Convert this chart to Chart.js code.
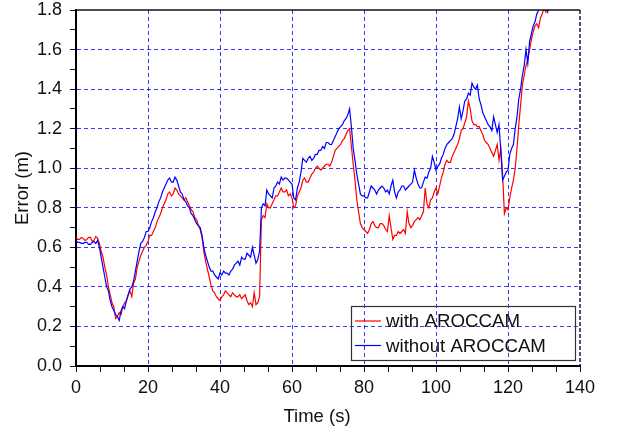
<!DOCTYPE html>
<html>
<head>
<meta charset="utf-8">
<script src="https://cdn.jsdelivr.net/npm/chart.js@4/dist/chart.umd.min.js"></script>
<style>
  html, body { margin: 0; padding: 0; background: #fff; }
  #wrap { width: 618px; height: 433px; }
</style>
</head>
<body>
<div id="wrap"><canvas id="c" width="618" height="433"></canvas></div>
<script>
// ---- Data (0.5 s sampling) ----
const timeS = [
  0,0.5,1,1.5,2,2.5,3,3.5,4,4.5, 5,5.5,6,6.5,7,7.5,8,8.5,9,9.5,
  10,10.5,11,11.5,12,12.5,13,13.5,14,14.5, 15,15.5,16,16.5,17,17.5,18,18.5,19,19.5,
  20,20.5,21,21.5,22,22.5,23,23.5,24,24.5, 25,25.5,26,26.5,27,27.5,28,28.5,29,29.5,
  30,30.5,31,31.5,32,32.5,33,33.5,34,34.5, 35,35.5,36,36.5,37,37.5,38,38.5,39,39.5,
  40,40.5,41,41.5,42,42.5,43,43.5,44,44.5, 45,45.5,46,46.5,47,47.5,48,48.5,49,49.5,
  50,50.5,51,51.5,52,52.5,53,53.5,54,54.5, 55,55.5,56,56.5,57,57.5,58,58.5,59,59.5,
  60,60.5,61,61.5,62,62.5,63,63.5,64,64.5, 65,65.5,66,66.5,67,67.5,68,68.5,69,69.5,
  70,70.5,71,71.5,72,72.5,73,73.5,74,74.5, 75,75.5,76,76.5,77,77.5,78,78.5,79,79.5,
  80,80.5,81,81.5,82,82.5,83,83.5,84,84.5, 85,85.5,86,86.5,87,87.5,88,88.5,89,89.5,
  90,90.5,91,91.5,92,92.5,93,93.5,94,94.5, 95,95.5,96,96.5,97,97.5,98,98.5,99,99.5,
  100,100.5,101,101.5,102,102.5,103,103.5,104,104.5, 105,105.5,106,106.5,107,107.5,108,108.5,109,109.5,
  110,110.5,111,111.5,112,112.5,113,113.5,114,114.5, 115,115.5,116,116.5,117,117.5,118,118.5,119,119.5,
  120,120.5,121,121.5,122,122.5,123,123.5,124,124.5, 125,125.5,126,126.5,127,127.5,128,128.5,129,129.5,
  130,130.5,131,131.5,132
];

const withAroccam = [
  .65,.64,.64,.65,.645,.635,.64,.65,.65,.63,
  .635,.655,.645,.62,.58,.55,.50,.46,.40,.36,
  .32,.30,.24,.25,.27,.26,.30,.32,.33,.36,
  .38,.35,.42,.44,.50,.53,.56,.58,.60,.61,
  .63,.66,.66,.68,.70,.73,.75,.77,.80,.82,
  .84,.87,.88,.86,.87,.90,.89,.87,.86,.85,
  .84,.85,.83,.81,.79,.78,.75,.74,.71,.69,
  .65,.58,.53,.49,.45,.41,.38,.37,.35,.34,
  .33,.35,.36,.38,.37,.36,.35,.37,.36,.35,
  .35,.36,.34,.35,.36,.33,.31,.32,.30,.37,
  .31,.32,.35,.74,.76,.75,.82,.80,.80,.82,
  .84,.86,.86,.88,.90,.88,.88,.89,.86,.87,
  .85,.80,.81,.86,.88,.90,.94,.95,.93,.93,
  .95,.97,.98,1.0,1.01,1.0,.99,1.0,1.01,1.02,
  1.02,1.01,1.03,1.06,1.09,1.10,1.11,1.12,1.14,1.15,
  1.17,1.19,1.20,1.11,1.02,.94,.84,.78,.72,.70,
  .69,.68,.67,.69,.72,.73,.71,.70,.70,.72,
  .72,.71,.69,.68,.76,.70,.64,.66,.66,.68,
  .67,.68,.69,.67,.78,.72,.70,.71,.73,.74,
  .75,.74,.76,.78,.90,.82,.80,.84,.85,.88,
  .90,.87,.91,.95,.98,1.02,1.04,1.03,1.03,1.06,
  1.08,1.10,1.12,1.15,1.19,1.20,1.23,1.26,1.34,1.30,
  1.24,1.22,1.22,1.21,1.21,1.19,1.17,1.14,1.13,1.12,
  1.10,1.08,1.06,1.09,1.12,1.04,1.10,.97,.77,.80,
  .79,.85,.90,.94,1.00,1.10,1.22,1.32,1.42,1.47,
  1.52,1.55,1.60,1.65,1.69,1.72,1.73,1.71,1.76,1.78,
  1.81,1.79,1.85,1.87,1.90
];

const withoutAroccam = [
  .63,.625,.625,.62,.62,.625,.625,.615,.615,.625,
  .63,.62,.635,.60,.55,.50,.45,.40,.38,.33,
  .30,.28,.26,.25,.23,.28,.30,.29,.33,.36,
  .39,.40,.43,.48,.53,.58,.62,.63,.65,.68,
  .68,.70,.73,.75,.78,.80,.83,.85,.88,.90,
  .92,.94,.95,.93,.93,.955,.94,.91,.88,.87,
  .84,.83,.81,.80,.77,.76,.74,.72,.71,.70,
  .66,.60,.56,.53,.50,.48,.48,.46,.45,.44,
  .47,.46,.48,.47,.47,.46,.48,.49,.51,.52,
  .53,.51,.55,.54,.54,.57,.56,.55,.60,.56,
  .52,.54,.58,.80,.82,.81,.89,.87,.86,.85,
  .90,.91,.93,.92,.955,.94,.95,.95,.94,.93,
  .92,.85,.84,.90,.93,.98,1.05,1.04,1.03,1.05,
  1.06,1.04,1.05,1.07,1.07,1.09,1.09,1.11,1.10,1.13,
  1.13,1.12,1.12,1.14,1.16,1.18,1.20,1.21,1.22,1.24,
  1.25,1.27,1.30,1.21,1.10,1.04,.97,.92,.87,.86,
  .86,.85,.85,.88,.91,.90,.89,.87,.89,.90,
  .91,.90,.88,.89,.87,.91,.94,.88,.85,.88,
  .89,.91,.91,.89,.90,.91,.92,.93,.99,.95,
  .92,.90,.90,.93,.955,.95,.98,1.00,1.06,1.03,
  .99,1.01,1.02,1.05,1.07,1.10,1.12,1.13,1.14,1.15,
  1.17,1.21,1.25,1.31,1.25,1.29,1.34,1.35,1.38,1.37,
  1.43,1.41,1.40,1.42,1.35,1.32,1.28,1.26,1.24,1.22,
  1.21,1.19,1.26,1.22,1.18,1.22,1.09,.94,.96,.98,
  .99,1.07,1.10,1.12,1.20,1.26,1.35,1.40,1.47,1.52,
  1.60,1.53,1.64,1.68,1.72,1.74,1.78,1.80,1.82,1.83,
  1.84,1.82,1.79,1.82,1.84
];

const seriesLabels = ['with AROCCAM', 'without AROCCAM'];
const xTickLabels = [0, 20, 40, 60, 80, 100, 120, 140];
const yTickLabels = [0.0, 0.2, 0.4, 0.6, 0.8, 1.0, 1.2, 1.4, 1.6, 1.8];
const xTitle = 'Time (s)';
const yTitle = 'Error (m)';

// ---- Chart ----
const FONT = '"Liberation Sans", Arial, Helvetica, sans-serif';
const GRID_BLUE = 'rgba(0,0,255,0.78)';

function isMajor(v, list) {
  return list.some(t => Math.abs(t - v) < 1e-6);
}

const framePlugin = {
  id: 'frame',
  afterDatasetsDraw(chart) {
    const {ctx, chartArea: a} = chart;
    ctx.save();
    ctx.strokeStyle = '#111';
    ctx.lineWidth = 1.5;
    ctx.beginPath();
    ctx.moveTo(a.left, a.top);
    ctx.lineTo(a.right, a.top);
    ctx.stroke();
    ctx.strokeStyle = '#1a1a4a';
    ctx.lineWidth = 1.5;
    ctx.setLineDash([4, 2]);
    ctx.beginPath();
    ctx.moveTo(a.right, a.top);
    ctx.lineTo(a.right, a.bottom);
    ctx.stroke();
    ctx.restore();
  }
};

const xTitlePlugin = {
  id: 'xTitle',
  afterDraw(chart) {
    const {ctx} = chart;
    ctx.save();
    ctx.font = '18.5px ' + FONT;
    ctx.fillStyle = '#111';
    ctx.textAlign = 'center';
    ctx.textBaseline = 'middle';
    ctx.fillText(xTitle, 317, 417);
    ctx.restore();
  }
};

const legendPlugin = {
  id: 'boxLegend',
  afterDraw(chart) {
    const {ctx} = chart;
    const x0 = 351, y0 = 306, w = 224, h = 54;
    ctx.save();
    ctx.strokeStyle = '#333';
    ctx.lineWidth = 1.2;
    ctx.strokeRect(x0 + 0.5, y0 + 0.5, w, h);
    ctx.font = '18.7px ' + FONT;
    ctx.textBaseline = 'middle';
    ctx.textAlign = 'left';
    chart.data.datasets.forEach((ds, i) => {
      const y = y0 + 15 + i * 24.5;
      ctx.strokeStyle = ds.borderColor;
      ctx.lineWidth = 1.2;
      ctx.beginPath();
      ctx.moveTo(x0 + 4, y);
      ctx.lineTo(x0 + 30, y);
      ctx.stroke();
      ctx.fillStyle = '#111';
      ctx.fillText(ds.label, x0 + 35, y + 1);
    });
    ctx.restore();
  }
};

new Chart(document.getElementById('c'), {
  type: 'line',
  data: {
    datasets: [
      {
        label: seriesLabels[0],
        data: timeS.map((t, i) => ({x: t, y: withAroccam[i]})),
        borderColor: '#ff0000',
        borderWidth: 1.2,
        pointRadius: 0,
        tension: 0,
        order: 1
      },
      {
        label: seriesLabels[1],
        data: timeS.map((t, i) => ({x: t, y: withoutAroccam[i]})),
        borderColor: '#0000ff',
        borderWidth: 1.2,
        pointRadius: 0,
        tension: 0,
        order: 0
      }
    ]
  },
  options: {
    responsive: false,
    animation: false,
    events: [],
    layout: { padding: { top: 10, right: 38, left: 0, bottom: 0 } },
    plugins: {
      legend: { display: false },
      tooltip: { enabled: false }
    },
    scales: {
      x: {
        type: 'linear',
        min: 0,
        max: 140,
        afterFit(scale) { scale.height = 67; scale.paddingLeft = 0; scale.paddingRight = 0; },
        ticks: {
          stepSize: 20 / 3,
          autoSkip: false,
          maxRotation: 0,
          padding: 5,
          color: '#111',
          font: { family: FONT, size: 18 },
          callback(v) { return isMajor(v, xTickLabels) ? String(Math.round(v)) : ''; }
        },
        grid: {
          color(ctx) { return ctx.tick && isMajor(ctx.tick.value, xTickLabels) && ctx.tick.value > 0 && ctx.tick.value < 140 ? GRID_BLUE : 'rgba(0,0,0,0)'; },
          lineWidth: 1,
          tickColor: '#111',
          tickLength: 6,
          tickWidth: 1
        },
        border: { display: true, color: '#000', width: 2, dash: [4, 3] },
        title: { display: false, text: xTitle }
      },
      y: {
        type: 'linear',
        min: 0,
        max: 1.8,
        afterFit(scale) { scale.width = 76; scale.paddingTop = 0; scale.paddingBottom = 0; },
        ticks: {
          stepSize: 0.1,
          autoSkip: false,
          padding: 8,
          color: '#111',
          font: { family: FONT, size: 18 },
          callback(v) { return isMajor(v, yTickLabels) ? v.toFixed(1) : ''; }
        },
        grid: {
          color(ctx) { return ctx.tick && isMajor(ctx.tick.value, yTickLabels) && ctx.tick.value > 0 && ctx.tick.value < 1.8 ? GRID_BLUE : 'rgba(0,0,0,0)'; },
          lineWidth: 1,
          tickColor: '#111',
          tickLength: 6,
          tickWidth: 1
        },
        border: { display: true, color: '#000', width: 2, dash: [4, 3] },
        title: {
          display: true,
          text: yTitle,
          color: '#111',
          font: { family: FONT, size: 18.5 },
          padding: { top: 12, bottom: 0 }
        }
      }
    }
  },
  plugins: [framePlugin, legendPlugin, xTitlePlugin]
});
</script>
</body>
</html>
